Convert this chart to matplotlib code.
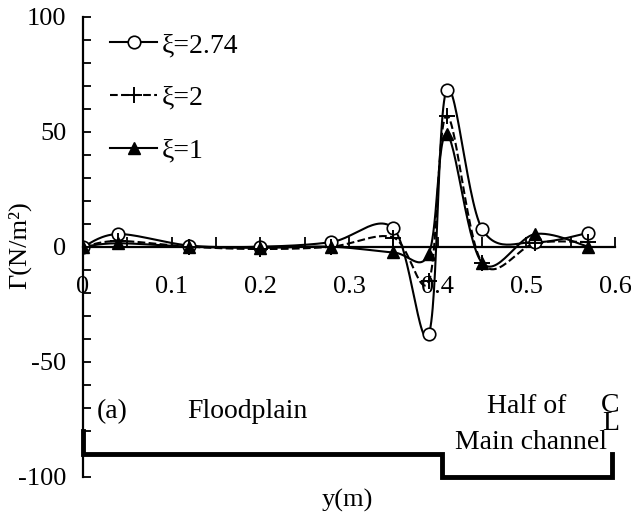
import numpy as np
import matplotlib
matplotlib.use("Agg")
import matplotlib.pyplot as plt
from matplotlib.lines import Line2D

plt.rcParams['font.family'] = ['Liberation Serif', 'DejaVu Serif']
plt.rcParams['axes.unicode_minus'] = False

# ---- data ----
y_pos = [0.0, 0.04, 0.12, 0.20, 0.28, 0.35, 0.39, 0.41, 0.45, 0.51, 0.57]
tau_274 = [0.0, 5.5, 0.5, 0.0, 2.0, 8.0, -38.0, 68.0, 7.8, 2.0, 6.0]
tau_2 = [0.0, 2.5, 0.0, -1.0, 0.0, 4.0, -15.0, 57.0, -7.0, 1.5, 2.0]
tau_1 = [0.0, 1.5, 0.0, -0.5, 0.0, -2.5, -3.0, 49.0, -7.0, 5.5, 0.0]
labels = ['ξ=2.74', 'ξ=2', 'ξ=1']

# channel cross-section outline
sect_x = [0.0, 0.0, 0.405, 0.405, 0.597, 0.597]
sect_y = [-80, -90, -90, -100, -100, -90]

x_ticks = [0, 0.1, 0.2, 0.3, 0.4, 0.5, 0.6]
x_tick_labels = ['0', '0.1', '0.2', '0.3', '0.4', '0.5', '0.6']
y_ticks = [-100, -50, 0, 50, 100]


def excel_smooth(x, y, n=30):
    """Excel-like smoothed line through the given points (rendering only)."""
    P = np.column_stack([x, y]).astype(float)
    m = len(P)
    out = [P[0]]
    for i in range(m - 1):
        p0 = P[i - 1] if i > 0 else P[i]
        p1 = P[i]
        p2 = P[i + 1]
        p3 = P[i + 2] if i + 2 < m else P[i + 1]
        c1 = p1 + (p2 - p0) / 6.0
        c2 = p2 - (p3 - p1) / 6.0
        t = np.linspace(0, 1, n)[1:, None]
        seg = ((1 - t) ** 3) * p1 + 3 * ((1 - t) ** 2) * t * c1 + 3 * (1 - t) * t ** 2 * c2 + t ** 3 * p2
        out.extend(seg)
    out = np.array(out)
    return out[:, 0], out[:, 1]


fig = plt.figure(figsize=(6.31, 5.22), dpi=100)
ax = fig.add_axes([83 / 631, 1 - 476.7 / 522, (615 - 83) / 631, (476.7 - 16.7) / 522])

ax.set_xlim(0, 0.6)
ax.set_ylim(-100, 100)

styles = [
    dict(ls='-', marker='o', mfc='white', mec='black', ms=9, mew=1.2),
    dict(ls='--', marker='+', mfc='black', mec='black', ms=12, mew=1.4),
    dict(ls='-', marker='^', mfc='black', mec='black', ms=9, mew=1.0),
]
handles = []
for vals, st, lab in zip([tau_274, tau_2, tau_1], styles, labels):
    sx, sy = excel_smooth(y_pos, vals)
    ax.plot(sx, sy, color='black', ls=st['ls'], lw=1.5, zorder=3)
    ax.plot(y_pos, vals, ls='none', marker=st['marker'], mfc=st['mfc'], mec=st['mec'],
            ms=st['ms'], mew=st['mew'], zorder=4)
    handles.append(Line2D([], [], color='black', ls=st['ls'], lw=1.5, marker=st['marker'],
                          mfc=st['mfc'], mec=st['mec'], ms=st['ms'], mew=st['mew']))

ax.legend(handles, labels, loc='upper left', bbox_to_anchor=(27 / 532, 1 - 16 / 460), frameon=False,
          fontsize=20, handlelength=1.7, handletextpad=0.15, labelspacing=0.98,
          borderaxespad=0, borderpad=0.0)

# channel section outline
ax.plot(sect_x, sect_y, color='black', lw=3.5, solid_joinstyle='miter', zorder=2, clip_on=False)

# spines
ax.spines['top'].set_visible(False)
ax.spines['right'].set_visible(False)
ax.spines['bottom'].set_position(('data', 0))
ax.spines['left'].set_position(('data', 0))
ax.spines['bottom'].set_linewidth(1.6)
ax.spines['left'].set_linewidth(1.6)

ax.set_xticks(x_ticks)
ax.set_xticklabels(x_tick_labels)
ax.set_xticks(np.arange(0, 0.6001, 0.05), minor=True)
ax.set_yticks(y_ticks)
ax.set_yticks(np.arange(-100, 100.1, 10), minor=True)
ax.tick_params(axis='x', which='both', direction='in', length=7, width=1.3, pad=21, labelsize=19)
ax.tick_params(axis='y', which='both', direction='in', length=6, width=1.3, pad=12, labelsize=19)

# texts
ax.text(0.033, -71.5, '(a)', ha='center', va='center', fontsize=20)
ax.text(0.185, -71.5, 'Floodplain', ha='center', va='center', fontsize=20)
ax.text(0.50, -69.5, 'Half of', ha='center', va='center', fontsize=20)
ax.text(0.505, -85, 'Main channel', ha='center', va='center', fontsize=20)
ax.text(0.595, -73, 'C\nL', ha='center', va='center', fontsize=20, linespacing=0.65)

fig.text(20 / 631, 1 - 245 / 522, 'Γ(N/m²)', rotation=90, ha='center', va='center', fontsize=19)
fig.text(347 / 631, 1 - 500 / 522, 'y(m)', ha='center', va='center', fontsize=19)

fig.savefig('out.png', dpi=100)
